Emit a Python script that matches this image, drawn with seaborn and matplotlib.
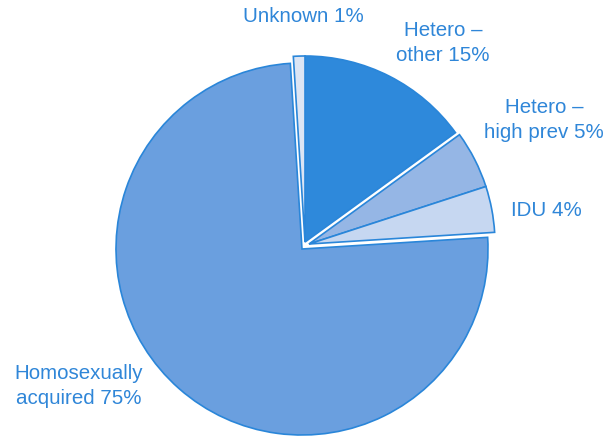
import matplotlib
matplotlib.use("Agg")
import matplotlib.pyplot as plt
import seaborn as sns

sns.set_theme(style="white")
plt.rcParams['font.family'] = ['Liberation Sans', 'DejaVu Sans']

# Transmission categories, drawn clockwise from 12 o'clock
categories = ["Hetero –\nother", "Hetero –\nhigh prev", "IDU", "Homosexually\nacquired", "Unknown"]
shares = [15, 5, 4, 75, 1]
slice_colors = ["#2E89DB", "#95B6E5", "#C6D7F1", "#6A9FDF", "#DCE5F4"]
edge_color = "#2A86D9"
text_color = "#2F86D8"

W, H = 607, 436
fig = plt.figure(figsize=(W / 100, H / 100), dpi=100)
fig.patch.set_facecolor("white")

# Pie centre and radius in pixels
cx, cy, r = 302, 436 - 249, 186
half = 1.2 * r
ax = fig.add_axes([(cx - half) / W, (cy - half) / H, 2 * half / W, 2 * half / H])

wedges, _ = ax.pie(shares, colors=slice_colors, startangle=90, counterclock=False,
                   radius=1.0,
                   wedgeprops=dict(edgecolor=edge_color, linewidth=1.2))

# Pull the minor categories out of the main slice in two groups
# (offsets in pixels: right, up)
group_shift = {0: (3, 7), 4: (3, 7), 1: (7, 5), 2: (7, 5)}
for i, (dx, dy) in group_shift.items():
    wedges[i].set_center((dx / r, dy / r))

ax.set_xlim(-1.2, 1.2)
ax.set_ylim(-1.2, 1.2)
ax.set_aspect("equal")
ax.axis("off")

labels = [f"{c} {v}%" for c, v in zip(categories, shares)]
label_pos = [(443, 43), (544, 120), (546, 210), (79, 386), (303, 17)]
for text, (x, y) in zip(labels, label_pos):
    fig.text(x / W, 1 - y / H, text, ha="center", va="center", fontsize=14.8,
             color=text_color, linespacing=1.4)

fig.savefig("out.png", dpi=100, facecolor="white")
